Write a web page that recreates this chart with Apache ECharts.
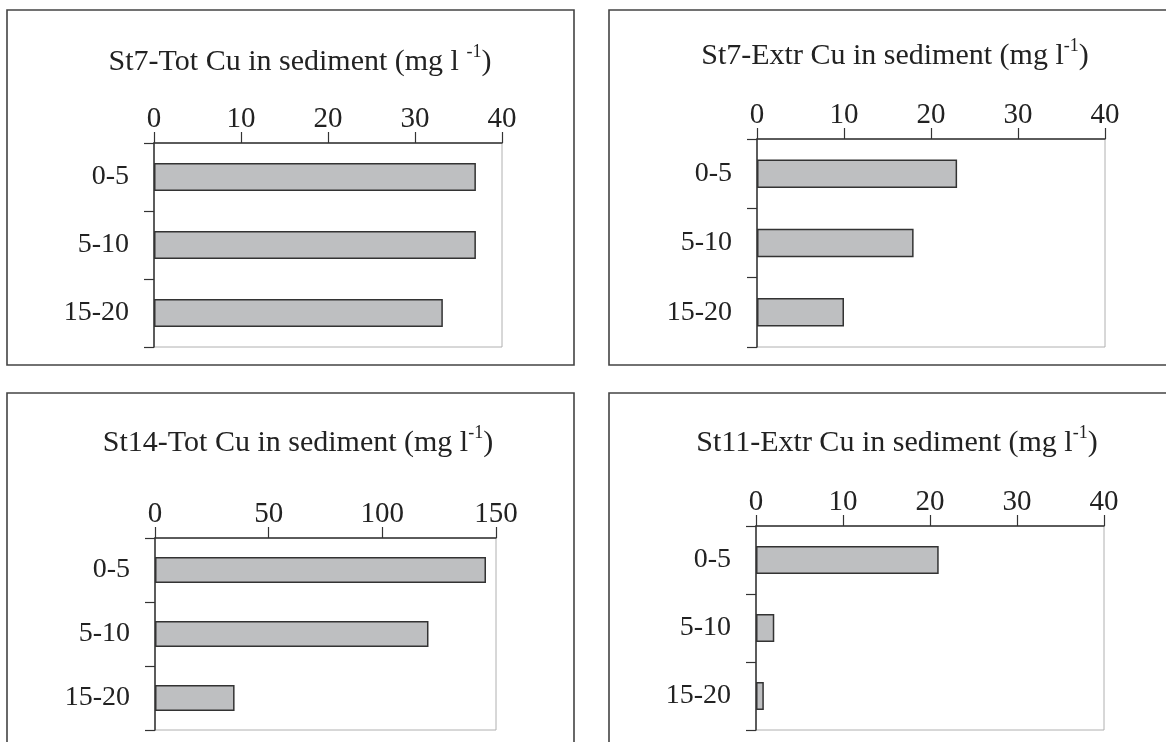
<!DOCTYPE html>
<html>
<head>
<meta charset="utf-8">
<script src="https://cdn.jsdelivr.net/npm/echarts@6/dist/echarts.min.js"></script>
<style>
  html, body { margin: 0; padding: 0; background: #fff; }
  #chart { width: 1166px; height: 742px; }
</style>
</head>
<body>
<div id="chart"></div>
<script>
// Sediment depth layers (cm)
const depths = ['0-5', '5-10', '15-20'];

// Copper concentrations per station (mg l-1)
const st7Total = [37, 37, 33.2];
const st7Extr = [23, 18, 10];
const st14Total = [145.6, 120.3, 35];
const st11Extr = [21, 2.1, 0.9];

// Panel titles
const titles = [
  'St7-Tot Cu in sediment (mg l {sup|-1})',
  'St7-Extr Cu in sediment (mg l{sup|-1})',
  'St14-Tot Cu in sediment (mg l{sup|-1})',
  'St11-Extr Cu in sediment (mg l{sup|-1})'
];

// Value-axis ranges
const axisMax = [40, 40, 150, 40];
const axisStep = [10, 10, 50, 10];

const seriesValues = [st7Total, st7Extr, st14Total, st11Extr];

const FONT = '"Liberation Serif", "Times New Roman", serif';
const INK = '#222';

const grids = [
  { left: 154, top: 143, width: 348, height: 204 },
  { left: 757, top: 139, width: 348, height: 208 },
  { left: 155, top: 538, width: 341, height: 192 },
  { left: 756, top: 526, width: 348, height: 204 }
];

const titlePos = [
  { x: 300, y: 62 },
  { x: 895, y: 56 },
  { x: 298, y: 443 },
  { x: 897, y: 443 }
];

const panels = [
  { x: 7, y: 10, w: 567, h: 355 },
  { x: 609, y: 10, w: 600, h: 355 },
  { x: 7, y: 393, w: 567, h: 400 },
  { x: 609, y: 393, w: 600, h: 400 }
];

const chart = echarts.init(document.getElementById('chart'), null, { renderer: 'canvas' });

const option = {
  backgroundColor: '#fff',
  animation: false,
  graphic: panels.map(p => ({
    type: 'rect',
    shape: { x: p.x, y: p.y, width: p.w, height: p.h },
    style: { fill: 'none', stroke: '#444', lineWidth: 1.6 },
    z: 0
  })).concat(titles.map((t, i) => ({
    type: 'text',
    x: titlePos[i].x,
    y: titlePos[i].y,
    style: {
      text: t,
      fontFamily: FONT,
      fontSize: 30,
      fill: INK,
      align: 'center',
      verticalAlign: 'middle',
      lineHeight: 38,
      rich: {
        sup: { fontSize: 18, fontFamily: FONT, fill: INK, verticalAlign: 'top', lineHeight: 38, padding: [0, 0, 11, 0] }
      }
    },
    z: 10
  }))),
  grid: grids.map(g => Object.assign({
    show: true,
    borderColor: '#b0b0b0',
    borderWidth: 1,
    backgroundColor: 'transparent'
  }, g)),
  xAxis: grids.map((g, i) => ({
    type: 'value',
    gridIndex: i,
    position: 'top',
    min: 0,
    max: axisMax[i],
    interval: axisStep[i],
    axisLine: { show: true, lineStyle: { color: '#333', width: 1.5 } },
    axisTick: { show: true, inside: false, length: 11, lineStyle: { color: '#333', width: 1.2 } },
    axisLabel: { fontFamily: FONT, fontSize: 29, color: INK, margin: 9 },
    splitLine: { show: false }
  })),
  yAxis: grids.map((g, i) => ({
    type: 'category',
    gridIndex: i,
    inverse: true,
    data: depths,
    axisLine: { show: true, lineStyle: { color: '#333', width: 1.5 } },
    axisTick: { show: true, inside: false, length: 10, lineStyle: { color: '#333', width: 1.2 } },
    axisLabel: { fontFamily: FONT, fontSize: 28, color: INK, margin: 25 },
    splitLine: { show: false }
  })),
  series: seriesValues.map((vals, i) => ({
    type: 'bar',
    xAxisIndex: i,
    yAxisIndex: i,
    data: vals,
    barWidth: '41%',
    itemStyle: { color: '#bebfc1', borderColor: '#333', borderWidth: 1.5 },
    silent: true
  }))
};

chart.setOption(option);
</script>
</body>
</html>
